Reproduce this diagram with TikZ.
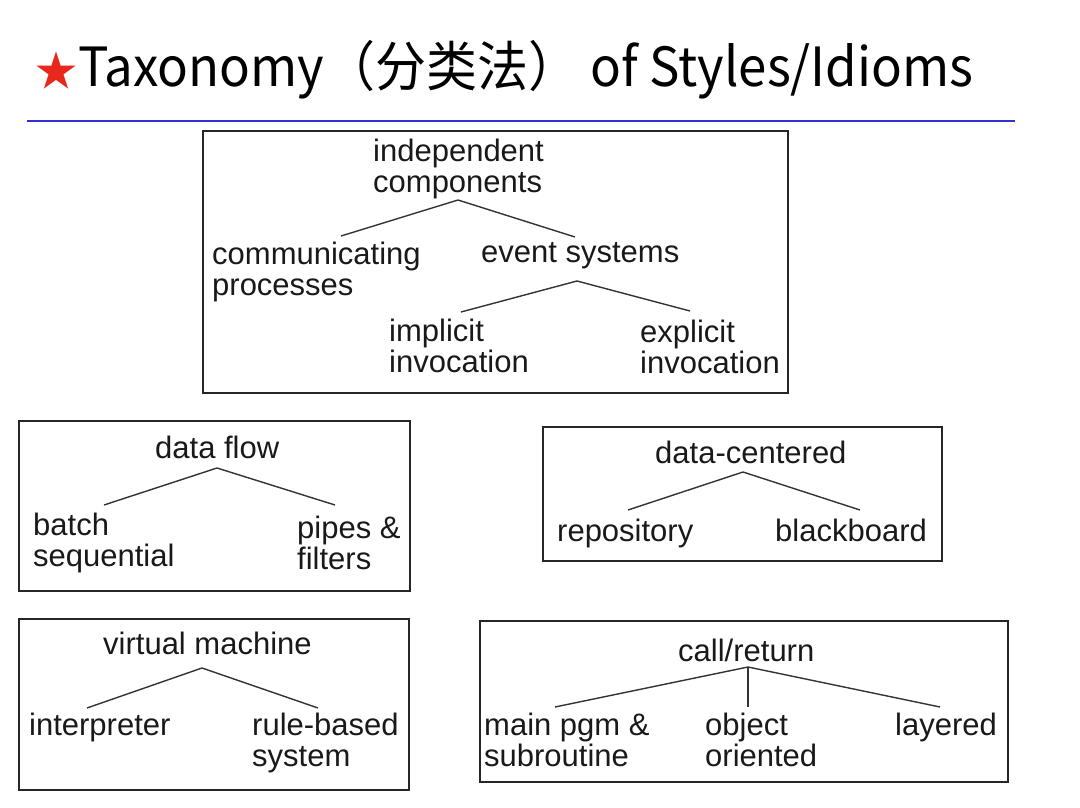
\documentclass[tikz,border=0pt]{standalone}
\usepackage{fontspec}
\setmainfont{Liberation Sans}
\newfontfamily\cjk{Noto Sans CJK SC}
\usetikzlibrary{positioning}
\definecolor{rulec}{RGB}{51,51,204}
\definecolor{starc}{RGB}{232,40,28}
\tikzset{l/.style={font=\fontsize{31}{31}\selectfont, inner sep=0pt, anchor=base west, align=left, text=black!90}}
\tikzset{box/.style={draw=black!85, line width=2pt}}
\tikzset{br/.style={draw=black!80, line width=1.4pt}}

\begin{document}
\begin{tikzpicture}[x=1pt,y=-1pt]
  \useasboundingbox (0,0) rectangle (1080,808);
  % title and rule
  \node (title) [anchor=base west, inner sep=0pt, xscale=0.944, font=\cjk\fontsize{54}{54}\selectfont] at (78,87) {Taxonomy（分类法） of Styles/Idioms};
  \node (star) [anchor=base east, inner sep=0pt, text=starc, font=\cjk\fontsize{42}{42}\selectfont] at (title.base west) {★};
  \coordinate (ruleL) at (27,121);
  \coordinate (ruleR) at (1015,121);
  \draw[rulec, line width=2pt] (ruleL) -- (ruleR);

  % independent components (base = last line)
  \node (ic) [box, minimum width=585pt, minimum height=262pt, anchor=north west] at (202,130) {};
  \node (icT) [l] at (373,192) {independent\\components};
  \node (cp) [l] at (212,295) {communicating\\processes};
  \node (es) [l] at (481,262) {event systems};
  \node (ii) [l] at (389,372) {implicit\\invocation};
  \node (ei) [l] at (640,373) {explicit\\invocation};
  \coordinate (icA) at (458,200);
  \coordinate (icL) at (341,236);
  \coordinate (icR) at (575,237);
  \coordinate (esA) at (577,281);
  \coordinate (esL) at (461,312);
  \coordinate (esR) at (690,311);
  \draw[br] (icL) -- (icA) -- (icR);
  \draw[br] (esL) -- (esA) -- (esR);

  % data flow
  \node (df) [box, minimum width=391pt, minimum height=170pt, anchor=north west] at (18,420) {};
  \node (dfT) [l] at (155,458) {data flow};
  \node (bs) [l] at (33,566) {batch\\sequential};
  \node (pf) [l] at (297,569) {pipes \&\\filters};
  \coordinate (dfA) at (217,468);
  \coordinate (dfL) at (104,505);
  \coordinate (dfR) at (335,505);
  \draw[br] (dfL) -- (dfA) -- (dfR);

  % data-centered
  \node (dc) [box, minimum width=399pt, minimum height=134pt, anchor=north west] at (542,426) {};
  \node (dcT) [l] at (655,463) {data-centered};
  \node (rp) [l] at (557,541) {repository};
  \node (bb) [l] at (775,541) {blackboard};
  \coordinate (dcA) at (743,472);
  \coordinate (dcL) at (628,510);
  \coordinate (dcR) at (860,510);
  \draw[br] (dcL) -- (dcA) -- (dcR);

  % virtual machine
  \node (vm) [box, minimum width=390pt, minimum height=171pt, anchor=north west] at (18,618) {};
  \node (vmT) [l] at (103,654) {virtual machine};
  \node (ip) [l] at (29,735) {interpreter};
  \node (rb) [l] at (252,766) {rule-based\\system};
  \coordinate (vmA) at (202,668);
  \coordinate (vmL) at (87,708);
  \coordinate (vmR) at (318,708);
  \draw[br] (vmL) -- (vmA) -- (vmR);

  % call/return
  \node (cr) [box, minimum width=528pt, minimum height=161pt, anchor=north west] at (479,620) {};
  \node (crT) [l] at (678,661) {call/return};
  \node (mp) [l] at (484,766) {main pgm \&\\subroutine};
  \node (oo) [l] at (705,766) {object\\oriented};
  \node (ly) [l] at (895,735) {layered};
  \coordinate (crA) at (748,667);
  \coordinate (crL) at (555,707);
  \coordinate (crM) at (748,707);
  \coordinate (crR) at (940,707);
  \draw[br] (crL) -- (crA) -- (crR);
  \draw[br] (crA) -- (crM);
\end{tikzpicture}
\end{document}
